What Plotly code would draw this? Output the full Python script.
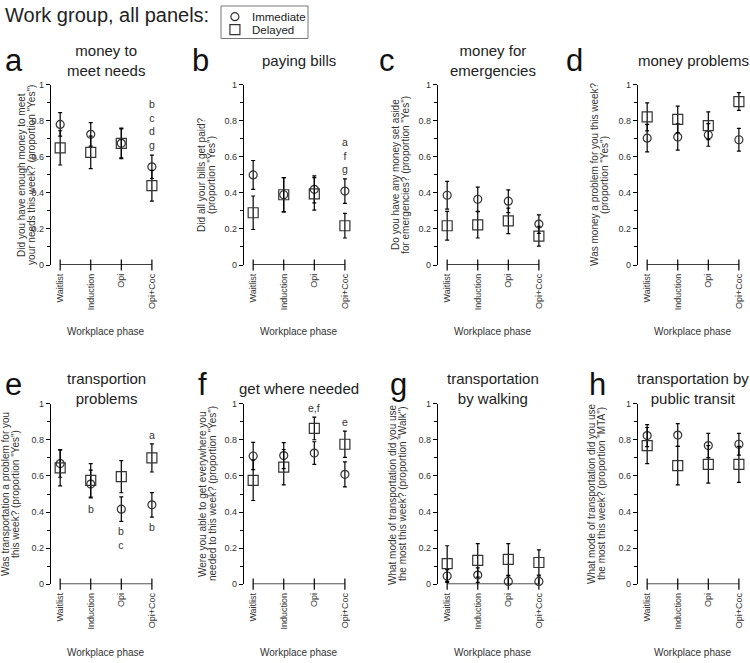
import plotly.graph_objects as go

W, H = 750, 663
FONT = "Liberation Sans, Arial, Helvetica, sans-serif"

categories = ["Waitlist", "Induction", "Opi", "Opi+Coc"]
panel_letters = ["a", "b", "c", "d", "e", "f", "g", "h"]
panel_titles = ["money to<br>meet needs", "paying bills", "money for<br>emergencies", "money problems",
                "transportion<br>problems", "get where needed", "transportation<br>by walking",
                "transportation by<br>public transit"]
y_titles = [
    ["Did you have enough money to meet", "your needs this week? (proportion \"Yes\")"],
    ["Did all your bills get paid?", "(proportion \"Yes\")"],
    ["Do you have any money set aside", "for emergencies? (proportion \"Yes\")"],
    ["Was money a problem for you this week?", "(proportion \"Yes\")"],
    ["Was transportation a problem for you", "this week? (proportion \"Yes\")"],
    ["Were you able to get everywhere you", "needed to this week? (proportion \"Yes\")"],
    ["What mode of transportation did you use", "the most this week? (proportion \"Walk\")"],
    ["What mode of transportation did you use", "the most this week? (proportion \"MTA\")"],
]
x_title = "Workplace phase"
legend_names = ["Immediate", "Delayed"]

# Immediate (circles) means and errors
imm_a = [0.78, 0.725, 0.675, 0.545];  imm_a_err = [0.065, 0.065, 0.08, 0.065]
imm_b = [0.50, 0.39, 0.42, 0.41];     imm_b_err = [0.08, 0.095, 0.075, 0.068]
imm_c = [0.387, 0.365, 0.354, 0.227]; imm_c_err = [0.077, 0.067, 0.063, 0.051]
imm_d = [0.704, 0.71, 0.722, 0.695];  imm_d_err = [0.076, 0.073, 0.063, 0.063]
imm_e = [0.669, 0.555, 0.416, 0.44];  imm_e_err = [0.076, 0.077, 0.068, 0.068]
imm_f = [0.711, 0.713, 0.727, 0.609]; imm_f_err = [0.076, 0.072, 0.063, 0.069]
imm_g = [0.045, 0.05, 0.015, 0.015];  imm_g_err = [0.035, 0.04, 0.03, 0.03]
imm_h = [0.824, 0.827, 0.769, 0.776]; imm_h_err = [0.061, 0.063, 0.067, 0.06]

# Delayed (squares) means and errors
del_a = [0.65, 0.625, 0.675, 0.44];   del_a_err = [0.095, 0.09, 0.085, 0.085]
del_b = [0.29, 0.39, 0.395, 0.218];   del_b_err = [0.093, 0.095, 0.09, 0.068]
del_c = [0.218, 0.223, 0.245, 0.16];  del_c_err = [0.08, 0.073, 0.071, 0.055]
del_d = [0.822, 0.808, 0.773, 0.907]; del_d_err = [0.078, 0.074, 0.077, 0.049]
del_e = [0.645, 0.576, 0.596, 0.70];  del_e_err = [0.10, 0.093, 0.089, 0.078]
del_f = [0.576, 0.649, 0.864, 0.776]; del_f_err = [0.112, 0.098, 0.063, 0.073]
del_g = [0.114, 0.132, 0.137, 0.12];  del_g_err = [0.099, 0.093, 0.088, 0.07]
del_h = [0.769, 0.658, 0.664, 0.664]; del_h_err = [0.10, 0.107, 0.104, 0.10]

imm_all = [imm_a, imm_b, imm_c, imm_d, imm_e, imm_f, imm_g, imm_h]
imm_err_all = [imm_a_err, imm_b_err, imm_c_err, imm_d_err, imm_e_err, imm_f_err, imm_g_err, imm_h_err]
del_all = [del_a, del_b, del_c, del_d, del_e, del_f, del_g, del_h]
del_err_all = [del_a_err, del_b_err, del_c_err, del_d_err, del_e_err, del_f_err, del_g_err, del_h_err]

# significance letters: panel index -> list of (category index, stacked letters, centre y value)
sig_letters = {
    0: [(3, ["b", "c", "d", "g"], 0.777)],
    1: [(3, ["a", "f", "g"], 0.606)],
    4: [(1, ["b"], 0.416), (2, ["b", "c"], 0.258), (3, ["a"], 0.83), (3, ["b"], 0.315)],
    5: [(2, ["e,f"], 0.976), (3, ["e"], 0.9)],
}

# ---- geometry (pixels) ----
axis_x_px = [51, 244, 438, 638]
axis_w_px = 107
row_top_px = [81, 405]
row_bot_px = [264, 588]
x_range = [-0.3, 3.2]
ytitle_cx = [27, 207, 401, 600, 10, 207, 397, 596]
letter_x = [3, 190, 377, 564, 3, 196, 388, 587]
letter_y = [56, 385]
title_y = [56, 389]
xtitle_y = [332, 657]
leg_box = (221, 1, 308, 34)  # x0, y0, x1, y1 px

def px(x):
    return x / W

def py(y):
    return 1 - y / H

fig = go.Figure()
layout = dict(width=W, height=H, margin=dict(l=0, r=0, t=0, b=0),
              paper_bgcolor="white", plot_bgcolor="white",
              font=dict(family=FONT, color="#222"), showlegend=False)
annotations = []
shapes = []
ppu = axis_w_px / (x_range[1] - x_range[0])

for i in range(8):
    row, col = divmod(i, 4)
    k = i + 1
    xa = "x" if k == 1 else f"x{k}"
    ya = "y" if k == 1 else f"y{k}"
    x0 = axis_x_px[col]
    layout["xaxis" if k == 1 else f"xaxis{k}"] = dict(
        domain=[px(x0), px(x0 + axis_w_px)], range=x_range, anchor=ya,
        showline=False, showgrid=False, zeroline=False,
        tickmode="array", tickvals=[0, 1, 2, 3], ticktext=categories, tickangle=-90,
        ticks="", ticklabelstandoff=6, tickfont=dict(size=9, color="#333"), fixedrange=True)
    layout["yaxis" if k == 1 else f"yaxis{k}"] = dict(
        domain=[py(row_bot_px[row]), py(row_top_px[row])], range=[0, 1], anchor=xa,
        showline=True, linecolor="black", linewidth=1.2, showgrid=False, zeroline=False,
        ticks="outside", ticklen=4, tickwidth=1, tickcolor="black",
        tickmode="array", tickvals=[0, 0.2, 0.4, 0.6, 0.8, 1],
        ticktext=["0", "0.2", "0.4", "0.6", "0.8", "1"],
        tickfont=dict(size=9, color="#333"),
        minor=dict(tickmode="array", tickvals=[0.1, 0.3, 0.5, 0.7, 0.9], ticks="outside",
                   ticklen=2.5, tickwidth=1, tickcolor="black"),
        fixedrange=True)

    # x baseline with crossing ticks
    fig.add_trace(go.Scatter(x=[0, 1, 2, 3], y=[0, 0, 0, 0], xaxis=xa, yaxis=ya,
                             mode="lines+markers", line=dict(color="black", width=1.3),
                             marker=dict(symbol="line-ns-open", size=8,
                                         line=dict(color="black", width=1.2)),
                             cliponaxis=False, showlegend=False, hoverinfo="skip"))
    fig.add_trace(go.Scatter(x=[0, 1, 2, 3], y=imm_all[i], xaxis=xa, yaxis=ya, mode="markers",
                             name=legend_names[0], cliponaxis=False,
                             marker=dict(symbol="circle-open", size=8, color="#333",
                                         line=dict(color="#333", width=1.2)),
                             error_y=dict(type="data", array=imm_err_all[i], visible=True,
                                          color="black", thickness=1.2, width=2)))
    fig.add_trace(go.Scatter(x=[0, 1, 2, 3], y=del_all[i], xaxis=xa, yaxis=ya, mode="markers",
                             name=legend_names[1], cliponaxis=False,
                             marker=dict(symbol="square-open", size=10, color="#333",
                                         line=dict(color="#333", width=1.2)),
                             error_y=dict(type="data", array=del_err_all[i], visible=True,
                                          color="black", thickness=1.2, width=2)))

    cx = x0 + (1.5 - x_range[0]) * ppu
    annotations.append(dict(text=panel_titles[i], x=px(cx), y=py(title_y[row]), xref="paper",
                            yref="paper", xanchor="center", yanchor="middle", showarrow=False,
                            font=dict(size=15, color="#222")))
    annotations.append(dict(text=panel_letters[i], x=px(letter_x[i]), y=py(letter_y[row]),
                            xref="paper", yref="paper", xanchor="left", yanchor="middle",
                            showarrow=False, font=dict(size=31, color="#111")))
    annotations.append(dict(text=x_title, x=px(cx), y=py(xtitle_y[row]), xref="paper",
                            yref="paper", xanchor="center", yanchor="middle", showarrow=False,
                            font=dict(size=10, color="#333")))
    ymid = (row_top_px[row] + row_bot_px[row]) / 2
    for j, line in enumerate(y_titles[i]):
        annotations.append(dict(text=line, x=px(ytitle_cx[i] - 5 + 10 * j), y=py(ymid),
                                xref="paper", yref="paper", xanchor="center", yanchor="middle",
                                textangle=-90, showarrow=False, font=dict(size=10, color="#333")))
    for (ci, letters, yv) in sig_letters.get(i, []):
        annotations.append(dict(text="<br>".join(letters), x=ci, y=yv, xref=xa, yref=ya,
                                showarrow=False, xanchor="center", yanchor="middle",
                                font=dict(size=10.5, color="#333")))

# ---- hand-drawn legend box (compact, like the reference) ----
lx0, ly0, lx1, ly1 = leg_box
shapes.append(dict(type="rect", xref="paper", yref="paper", x0=px(lx0), x1=px(lx1),
                   y0=py(ly1), y1=py(ly0), line=dict(color="#777", width=1),
                   fillcolor="white", layer="below"))
layout["xaxis9"] = dict(domain=[px(lx0), px(lx1)], range=[0, 1], visible=False,
                        anchor="y9", fixedrange=True)
layout["yaxis9"] = dict(domain=[py(ly1), py(ly0)], range=[0, 1], visible=False,
                        anchor="x9", fixedrange=True)
leg_sym = [("circle-open", 8), ("square-open", 10)]
leg_rows_y = [0.67, 0.27]
for (sym, sz), name, yy in zip(leg_sym, legend_names, leg_rows_y):
    fig.add_trace(go.Scatter(x=[0.16], y=[yy], xaxis="x9", yaxis="y9", mode="markers",
                             name=name, hoverinfo="skip", cliponaxis=False,
                             marker=dict(symbol=sym, size=sz, color="#333",
                                         line=dict(color="#333", width=1.2))))
    annotations.append(dict(text=name, x=0.33, y=yy, xref="x9", yref="y9", xanchor="left",
                            yanchor="middle", showarrow=False,
                            font=dict(size=11.5, color="#222")))

annotations.append(dict(text="Work group, all panels:", x=px(3), y=py(10), xref="paper",
                        yref="paper", xanchor="left", yanchor="middle", showarrow=False,
                        font=dict(size=20, color="#222")))

layout["annotations"] = annotations
layout["shapes"] = shapes
fig.update_layout(**layout)
fig.write_html("out.html", config={"displayModeBar": False},
               post_script="document.body.style.margin='0';")
